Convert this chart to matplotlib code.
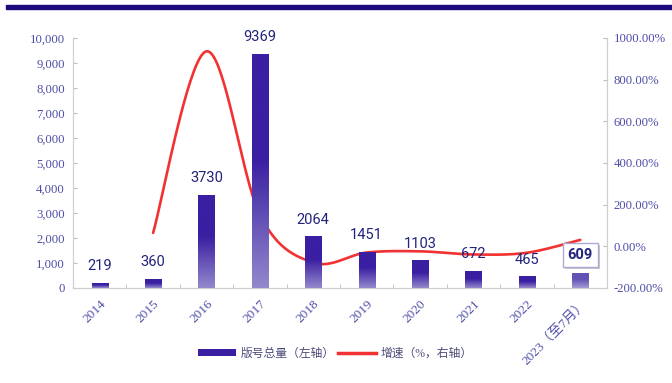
import numpy as np
import matplotlib
matplotlib.use("Agg")
import matplotlib.pyplot as plt
from matplotlib.patches import Rectangle, Patch
from matplotlib.lines import Line2D
from matplotlib.colors import to_rgb
import matplotlib.patheffects as pe

plt.rcParams['font.family'] = ['Liberation Serif', 'Noto Sans CJK SC', 'DejaVu Sans']

years = ['2014', '2015', '2016', '2017', '2018', '2019', '2020', '2021', '2022', '2023（至7月）']
totals = [219, 360, 3730, 9369, 2064, 1451, 1103, 672, 465, 609]
# growth rate, %, from 2015 onward
growth = [64.4, 936.1, 151.2, -78.0, -29.7, -24.0, -39.1, -30.8, 31.0]

tick_col = '#4f4fa8'
label_col = '#23237e'
dark = np.array(to_rgb('#3a1fa2'))
light = np.array(to_rgb('#9488cc'))


def smooth(xs, ys, n=40):
    # bezier smoothing through every point (catmull-rom style tangents)
    xs = np.asarray(xs, float)
    ys = np.asarray(ys, float)
    px = np.concatenate([[xs[0]], xs, [xs[-1]]])
    py = np.concatenate([[ys[0]], ys, [ys[-1]]])
    out_x, out_y = [], []
    for i in range(1, len(px) - 2):
        p0, p1, p2, p3 = [np.array([px[j], py[j]]) for j in (i - 1, i, i + 1, i + 2)]
        c1 = p1 + (p2 - p0) / 6
        c2 = p2 - (p3 - p1) / 6
        t = np.linspace(0, 1, n)[:, None]
        pts = (1 - t) ** 3 * p1 + 3 * (1 - t) ** 2 * t * c1 + 3 * (1 - t) * t ** 2 * c2 + t ** 3 * p2
        out_x.extend(pts[:, 0])
        out_y.extend(pts[:, 1])
    return np.array(out_x), np.array(out_y)


fig = plt.figure(figsize=(6.72, 3.83), dpi=100)
fig.patches.append(Rectangle((6 / 672, 1 - 9 / 383), 1, 4 / 383, transform=fig.transFigure,
                             color='#1a0a7c', zorder=5))

ax = fig.add_axes([73 / 672, 95 / 383, 534 / 672, 250 / 383])
ax2 = ax.twinx()
ax.set_zorder(ax2.get_zorder() + 1)
ax.patch.set_visible(False)

x = np.arange(len(years))
w = 0.3
ax.set_xlim(-0.5, len(years) - 0.5)
ax.set_ylim(0, 10000)
ax2.set_ylim(-200, 1000)

bars = ax.bar(x, totals, width=w, color='none', edgecolor='none')
grad = np.linspace(0, 1, 256)
for i, b in enumerate(bars):
    t = np.clip(grad / 0.55, 0, 1)[:, None]
    lo, hi = (light, dark) if i < len(bars) - 1 else (np.array(to_rgb('#a49ad6')), np.array(to_rgb('#6252b4')))
    img = lo * (1 - t) + hi * t
    im = ax.imshow(img[:, None, :], origin='lower', aspect='auto',
                   extent=[b.get_x(), b.get_x() + w, 0, b.get_height()], zorder=2)
    im.set_clip_path(b)

for i, v in enumerate(totals[:-1]):
    ax.annotate(str(v), (x[i], v), xytext=(0, 7), textcoords='offset points',
                ha='center', va='bottom', fontsize=10.5, color=label_col, family='Roboto')
ax.annotate(str(totals[-1]), (x[-1], totals[-1]), xytext=(0, 8), textcoords='offset points',
            ha='center', va='bottom', fontsize=10.5, color=label_col, family='Roboto',
            fontweight='bold',
            bbox=dict(boxstyle='square,pad=0.35', fc='white', ec='#b0a8d8', lw=1,
                      path_effects=[pe.withSimplePatchShadow(offset=(1.5, -1.5), alpha=0.3)]))

lx, ly = smooth(x[1:], growth)
ax2.plot(lx, ly, color='#f23232', lw=1.9, zorder=3, solid_capstyle='round')

ax.set_yticks(np.arange(0, 10001, 1000))
ax.set_yticklabels([f'{v:,}' for v in range(0, 10001, 1000)])
ax2.set_yticks(np.arange(-200, 1001, 200))
ax2.set_yticklabels([f'{v:.2f}%' for v in range(-200, 1001, 200)])
ax.set_xticks(x)
ax.set_xticklabels(years, rotation=45, ha='right', rotation_mode='anchor')
ax.set_xticks(np.arange(-0.5, len(years)), minor=True)

for a in (ax, ax2):
    for s in a.spines.values():
        s.set_color('#cfcfcf')
    a.spines['top'].set_visible(False)
ax.tick_params(axis='y', direction='in', length=3, color='#bdbdbd', labelsize=9.2,
               labelcolor=tick_col, pad=6)
ax2.tick_params(axis='y', direction='in', length=3, color='#bdbdbd', labelsize=9.2,
                labelcolor=tick_col, pad=5)
ax.tick_params(axis='x', which='major', length=0, labelsize=9.5, labelcolor=tick_col, pad=7)
ax.tick_params(axis='x', which='minor', direction='in', length=3, color='#bdbdbd')

handles = [Patch(facecolor='#3a1fa2', edgecolor='none'),
           Line2D([0], [0], color='#f23232', lw=2.5)]
leg = fig.legend(handles, ['版号总量（左轴）', '增速（%，右轴）'], loc='center',
                 bbox_to_anchor=(335 / 672, 1 - 354 / 383), ncol=2, frameon=False,
                 fontsize=8.5, handlelength=3.2, handleheight=0.5, columnspacing=0.3,
                 handletextpad=0.4)
for t in leg.get_texts():
    t.set_color('#4a4a78')

fig.savefig('out.png', dpi=100)
